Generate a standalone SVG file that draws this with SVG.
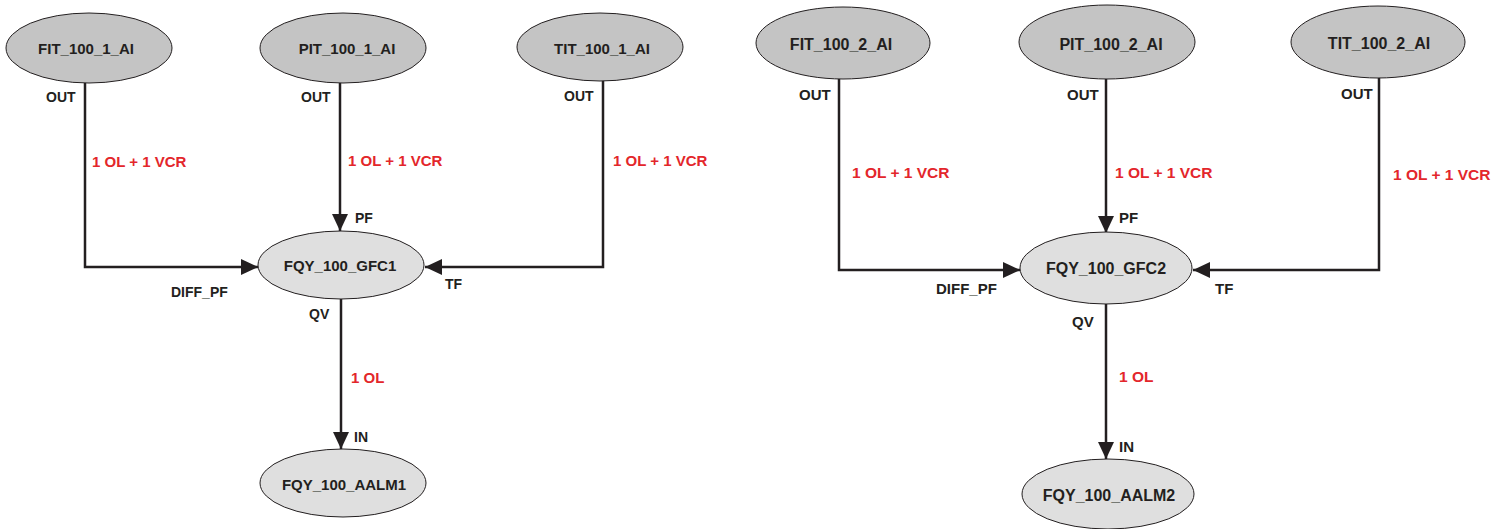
<svg xmlns="http://www.w3.org/2000/svg" width="1510" height="529" viewBox="0 0 1510 529">
<style>
text{font-family:"Liberation Sans",Arial,sans-serif;font-weight:bold;fill:#231f20}
.n{text-anchor:middle}
.s1{font-size:15px}
.s2{font-size:16px}
.p{font-size:14px}
.p2{font-size:15px}
.r{fill:#e3262b;font-size:15px}
.r2{fill:#e3262b;font-size:15.5px}
.src{fill:#c4c4c4;stroke:#231f20;stroke-width:1}
.dst{fill:#dfdfdf;stroke:#231f20;stroke-width:1}
.c{fill:none;stroke:#231f20;stroke-width:2.5;marker-end:url(#ah)}
</style>
<defs>
<marker id="ah" markerUnits="userSpaceOnUse" markerWidth="17" markerHeight="16" refX="17" refY="8" orient="auto">
<path d="M0,0 L17,8 L0,16 Z" fill="#231f20"/>
</marker>
</defs>
<rect width="1510" height="529" fill="#ffffff"/>
<g id="connectors">
<path class="c" d="M85,83 V267 H258"/>
<path class="c" d="M340,83 V231"/>
<path class="c" d="M603,80 V267 H425"/>
<path class="c" d="M341,299 V449"/>
<path class="c" d="M839,79 V270 H1020"/>
<path class="c" d="M1106,79 V233"/>
<path class="c" d="M1379,77 V270 H1193"/>
<path class="c" d="M1106,304 V459"/>
<text class="p" x="46" y="102">OUT</text>
<text class="r" x="92" y="167">1 OL + 1 VCR</text>
<text class="p" x="301" y="102">OUT</text>
<text class="r" x="348" y="166">1 OL + 1 VCR</text>
<text class="p" x="564" y="101">OUT</text>
<text class="r" x="613" y="166">1 OL + 1 VCR</text>
<text class="p" x="355" y="223">PF</text>
<text class="p" x="171" y="297">DIFF_PF</text>
<text class="p" x="445" y="289">TF</text>
<text class="p" x="309" y="319">QV</text>
<text class="r" x="351" y="383">1 OL</text>
<text class="p" x="354" y="442">IN</text>
<text class="p2" x="799" y="100">OUT</text>
<text class="r2" x="852" y="178">1 OL + 1 VCR</text>
<text class="p2" x="1067" y="100">OUT</text>
<text class="r2" x="1115" y="178">1 OL + 1 VCR</text>
<text class="p2" x="1341" y="99">OUT</text>
<text class="r2" x="1393" y="180">1 OL + 1 VCR</text>
<text class="p2" x="1119" y="223">PF</text>
<text class="p2" x="936" y="294">DIFF_PF</text>
<text class="p2" x="1215" y="294">TF</text>
<text class="p2" x="1072" y="327">QV</text>
<text class="r2" x="1119" y="382">1 OL</text>
<text class="p2" x="1119" y="452">IN</text>
</g>
<g id="FIT_100_1_AI"><ellipse class="src" cx="89" cy="48" rx="83" ry="35"/><text class="n s1" x="86" y="54">FIT_100_1_AI</text></g>
<g id="PIT_100_1_AI"><ellipse class="src" cx="343" cy="48" rx="83" ry="35"/><text class="n s1" x="347" y="54">PIT_100_1_AI</text></g>
<g id="TIT_100_1_AI"><ellipse class="src" cx="600" cy="47" rx="83" ry="34"/><text class="n s1" x="602" y="54">TIT_100_1_AI</text></g>
<g id="FQY_100_GFC1"><ellipse class="dst" cx="341" cy="265" rx="83" ry="34"/><text class="n s1" x="340" y="271">FQY_100_GFC1</text></g>
<g id="FQY_100_AALM1"><ellipse class="dst" cx="343" cy="483" rx="83" ry="34"/><text class="n s1" x="344" y="490">FQY_100_AALM1</text></g>
<g id="FIT_100_2_AI"><ellipse class="src" cx="843" cy="43" rx="87" ry="36"/><text class="n s2" x="841" y="50">FIT_100_2_AI</text></g>
<g id="PIT_100_2_AI"><ellipse class="src" cx="1107" cy="42" rx="88" ry="37"/><text class="n s2" x="1111" y="50">PIT_100_2_AI</text></g>
<g id="TIT_100_2_AI"><ellipse class="src" cx="1378" cy="42" rx="87" ry="36"/><text class="n s2" x="1379" y="49">TIT_100_2_AI</text></g>
<g id="FQY_100_GFC2"><ellipse class="dst" cx="1106" cy="268" rx="86" ry="36"/><text class="n s2" x="1106" y="274">FQY_100_GFC2</text></g>
<g id="FQY_100_AALM2"><ellipse class="dst" cx="1108" cy="494" rx="86" ry="35"/><text class="n s2" x="1109" y="501">FQY_100_AALM2</text></g>
</svg>
